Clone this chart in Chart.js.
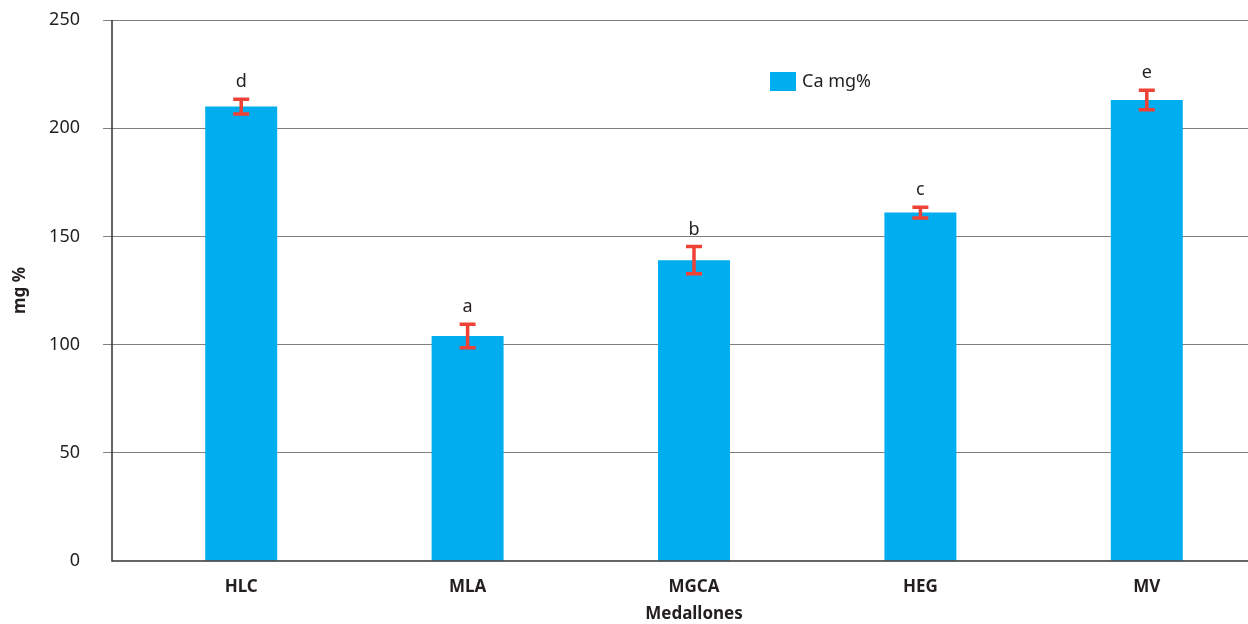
<!DOCTYPE html>
<html>
<head>
<meta charset="utf-8">
<style>
  html, body { margin: 0; padding: 0; background: #fff; overflow: hidden; }
  #wrap { width: 1260px; height: 624px; }
</style>
<script src="https://cdn.jsdelivr.net/npm/chart.js@4.4.1/dist/chart.umd.min.js"></script>
</head>
<body>
<div id="wrap"><canvas id="grafico"></canvas></div>
<script>
// Datos: calcio (mg%) por tipo de medallón
const categorias = ['HLC', 'MLA', 'MGCA', 'HEG', 'MV']
const calcio = [210, 104, 139, 161, 213]
const desvio = [3.4, 5.4, 6.3, 2.5, 4.5]
const letras = ['d', 'a', 'b', 'c', 'e']
const ticksY = [0, 50, 100, 150, 200, 250]

const AZUL = '#00aeef'
const ROJO = '#ef4136'
const TEXTO = '#231f20'
const FUENTE = "'Noto Sans', sans-serif"

Chart.defaults.font.family = FUENTE
Chart.defaults.color = TEXTO

// barras de error, letras, ejes y leyenda
const extras = {
  id: 'extras',
  afterDatasetsDraw(chart) {
    const { ctx, chartArea } = chart
    const y = chart.scales.y
    const meta = chart.getDatasetMeta(0)
    ctx.save()

    // ejes
    ctx.strokeStyle = '#333'
    ctx.lineWidth = 1.5
    ctx.beginPath()
    ctx.moveTo(112, chartArea.top)
    ctx.lineTo(112, chartArea.bottom)
    ctx.lineTo(chart.width, chartArea.bottom)
    ctx.stroke()

    meta.data.forEach((bar, i) => {
      const arriba = y.getPixelForValue(calcio[i] + desvio[i])
      const abajo = y.getPixelForValue(calcio[i] - desvio[i])
      ctx.strokeStyle = ROJO
      ctx.lineWidth = 3.5
      ctx.beginPath()
      ctx.moveTo(bar.x, arriba)
      ctx.lineTo(bar.x, abajo)
      ctx.moveTo(bar.x - 8, arriba)
      ctx.lineTo(bar.x + 8, arriba)
      ctx.moveTo(bar.x - 8, abajo)
      ctx.lineTo(bar.x + 8, abajo)
      ctx.stroke()

      ctx.fillStyle = TEXTO
      ctx.font = '18px ' + FUENTE
      ctx.textAlign = 'center'
      ctx.textBaseline = 'alphabetic'
      ctx.fillText(letras[i], bar.x, arriba - 12)
    })

    // leyenda
    const ds = chart.data.datasets[0]
    ctx.fillStyle = ds.backgroundColor
    ctx.fillRect(770, 72, 26, 19)
    ctx.fillStyle = TEXTO
    ctx.font = '18px ' + FUENTE
    ctx.textAlign = 'left'
    ctx.textBaseline = 'middle'
    ctx.fillText(ds.label, 802, 82)
    ctx.restore()
  }
}

const ctx = document.getElementById('grafico')

new Chart(ctx, {
  type: 'bar',
  data: {
    labels: categorias,
    datasets: [{
      label: 'Ca mg%',
      data: calcio,
      backgroundColor: AZUL,
      borderWidth: 0,
      barPercentage: 1,
      categoryPercentage: 0.318
    }]
  },
  options: {
    responsive: true,
    maintainAspectRatio: false,
    animation: false,
    layout: { padding: { top: 20, right: 0, left: 0, bottom: 0 } },
    plugins: {
      legend: { display: false },
      tooltip: { enabled: false }
    },
    scales: {
      x: {
        grid: { display: false },
        border: { display: false },
        ticks: { font: { size: 17, weight: 'bold' }, color: TEXTO, padding: 8 },
        title: {
          display: true,
          text: 'Medallones',
          font: { size: 17, weight: 'bold' },
          color: TEXTO,
          padding: { top: 12, bottom: 0 }
        },
        afterFit: s => { s.height = 63; s.paddingLeft = 0; s.paddingRight = 0 }
      },
      y: {
        min: 0,
        max: 250,
        afterBuildTicks: s => { s.ticks = ticksY.map(v => ({ value: v })) },
        border: { display: false },
        grid: {
          color: c => c.tick && c.tick.value === 0 ? 'rgba(0,0,0,0)' : '#7f7f7f',
          lineWidth: 1,
          tickLength: 25
        },
        ticks: { font: { size: 18 }, color: TEXTO, padding: 23 },
        title: {
          display: true,
          text: 'mg %',
          font: { size: 17, weight: 'bold' },
          color: TEXTO,
          padding: { top: 10, bottom: 0 }
        },
        afterFit: s => { s.width = 128; s.paddingTop = 0; s.paddingBottom = 0 }
      }
    }
  },
  plugins: [extras]
})
</script>
</body>
</html>
